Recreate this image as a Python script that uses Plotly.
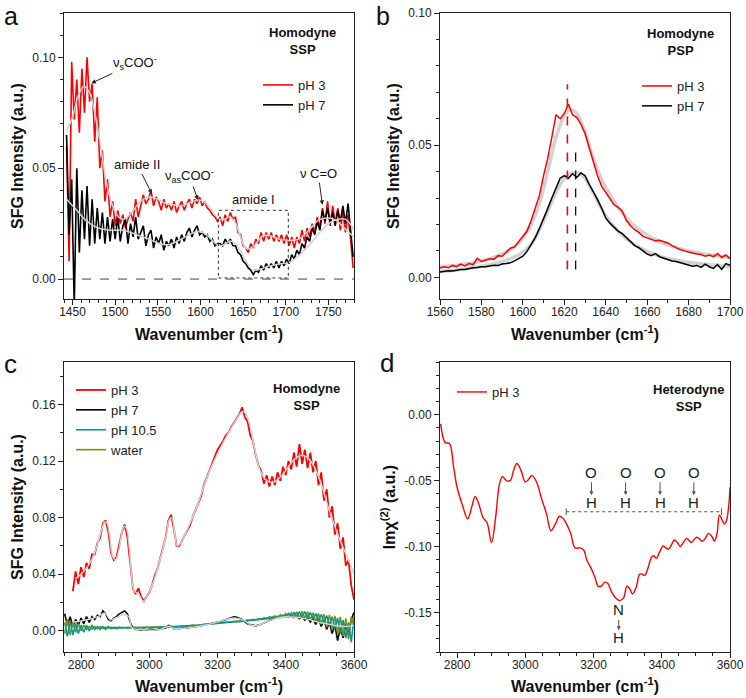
import plotly.graph_objects as go

# ---------------- Panel a : Homodyne SSP, 1440-1780 cm-1 ----------------
a_raw_x = list(range(1443, 1780, 3))
a_ph3_raw = [
    0.060, 0.008, 0.098, 0.072, 0.090, 0.066, 0.095, 0.075, 0.100, 0.080,
    0.088, 0.062, 0.082, 0.050, 0.058, 0.035, 0.045, 0.028, 0.035, 0.024,
    0.031, 0.025, 0.029, 0.023, 0.027, 0.030, 0.026, 0.036, 0.028, 0.033,
    0.038, 0.034, 0.036, 0.040, 0.033, 0.037, 0.035, 0.031, 0.036, 0.032,
    0.034, 0.031, 0.035, 0.030, 0.033, 0.035, 0.031, 0.034, 0.036, 0.032,
    0.036, 0.034, 0.037, 0.033, 0.035, 0.032, 0.031, 0.029, 0.028, 0.026,
    0.028, 0.024, 0.029, 0.026, 0.030, 0.027, 0.028, 0.021, 0.020, 0.015,
    0.014, 0.012, 0.016, 0.014, 0.018, 0.016, 0.021, 0.017, 0.021, 0.018,
    0.021, 0.017, 0.020, 0.017, 0.020, 0.016, 0.020, 0.015, 0.019, 0.014,
    0.019, 0.016, 0.022, 0.017, 0.023, 0.019, 0.025, 0.021, 0.028, 0.023,
    0.032, 0.025, 0.035, 0.024, 0.033, 0.025, 0.032, 0.022, 0.030, 0.021,
    0.029, 0.018, 0.005]
a_ph7_raw = [
    0.065, 0.020, 0.045, -0.012, 0.050, 0.012, 0.040, 0.018, 0.042, 0.015,
    0.036, 0.016, 0.032, 0.018, 0.030, 0.016, 0.028, 0.017, 0.027, 0.018,
    0.028, 0.017, 0.024, 0.027, 0.016, 0.025, 0.019, 0.028, 0.018, 0.021,
    0.024, 0.015, 0.020, 0.022, 0.014, 0.019, 0.016, 0.020, 0.013, 0.017,
    0.015, 0.018, 0.014, 0.019, 0.016, 0.020, 0.017, 0.021, 0.023, 0.019,
    0.022, 0.024, 0.020, 0.021, 0.019, 0.020, 0.017, 0.018, 0.015, 0.016,
    0.016, 0.015, 0.018, 0.016, 0.018, 0.015, 0.015, 0.012, 0.011, 0.008,
    0.007, 0.005, 0.004, 0.002, 0.004, 0.003, 0.006, 0.004, 0.007, 0.005,
    0.007, 0.005, 0.008, 0.005, 0.008, 0.006, 0.009, 0.007, 0.011, 0.009,
    0.013, 0.011, 0.016, 0.014, 0.019, 0.017, 0.023, 0.020, 0.026, 0.022,
    0.031, 0.026, 0.032, 0.025, 0.030, 0.024, 0.031, 0.026, 0.033, 0.025,
    0.034, 0.022, 0.010]
a_ph3_fit_x = [1443, 1450, 1456, 1463, 1470, 1476, 1483, 1490, 1497, 1504,
               1510, 1517, 1525, 1533, 1541, 1550, 1560, 1568, 1578, 1588,
               1599, 1607, 1615, 1622, 1628, 1634, 1640, 1646, 1653, 1660,
               1667, 1673, 1682, 1692, 1704, 1715, 1727, 1739, 1750, 1758,
               1766, 1774, 1780]
a_ph3_fit_y = [0.067, 0.073, 0.082, 0.087, 0.084, 0.075, 0.060, 0.043, 0.033, 0.028,
               0.027, 0.029, 0.033, 0.036, 0.037, 0.036, 0.034, 0.0335, 0.033, 0.0345,
               0.0357, 0.034, 0.030, 0.027, 0.027, 0.028, 0.026, 0.020, 0.014, 0.014,
               0.017, 0.0195, 0.0195, 0.018, 0.0175, 0.018, 0.022, 0.0267, 0.0275, 0.0267,
               0.024, 0.021, 0.019]
a_ph7_fit_x = [1443, 1455, 1467, 1480, 1495, 1510, 1525, 1540, 1552, 1563,
               1575, 1587, 1597, 1607, 1615, 1622, 1628, 1635, 1641, 1648,
               1655, 1662, 1670, 1680, 1692, 1704, 1715, 1727, 1739, 1750,
               1760, 1770, 1780]
a_ph7_fit_y = [0.036, 0.031, 0.026, 0.023, 0.022, 0.022, 0.020, 0.018, 0.016, 0.0155,
               0.0175, 0.020, 0.0215, 0.020, 0.017, 0.015, 0.0155, 0.0172, 0.016, 0.012,
               0.007, 0.004, 0.0045, 0.0058, 0.0068, 0.0075, 0.0105, 0.015, 0.0207, 0.025,
               0.0268, 0.027, 0.022]
a_amide1_box = [1621, 1703, 0.0005, 0.031]   # x0, x1, y0, y1

# ---------------- Panel b : Homodyne PSP, 1560-1700 cm-1 ----------------
b_raw_x = list(range(1560, 1701, 2))
b_ph3_raw = [
    0.0035, 0.0040, 0.0036, 0.0045, 0.0040, 0.0050, 0.0043, 0.0052, 0.0048, 0.0072,
    0.0060, 0.0065, 0.0070, 0.0068, 0.0082, 0.0080, 0.0095, 0.0110, 0.0115, 0.0135,
    0.0155, 0.0175, 0.0215, 0.0265, 0.0310, 0.0385, 0.0450, 0.0530, 0.0615, 0.0600,
    0.0620, 0.0655, 0.0615, 0.0605, 0.0580, 0.0545, 0.0490, 0.0430, 0.0385, 0.0345,
    0.0320, 0.0295, 0.0275, 0.0265, 0.0250, 0.0215, 0.0195, 0.0180, 0.0170, 0.0155,
    0.0150, 0.0145, 0.0138, 0.0140, 0.0135, 0.0130, 0.0120, 0.0112, 0.0105, 0.0100,
    0.0095, 0.0092, 0.0088, 0.0086, 0.0080, 0.0084, 0.0078, 0.0090, 0.0075, 0.0085,
    0.0070]
b_ph7_raw = [
    0.0020, 0.0022, 0.0025, 0.0024, 0.0028, 0.0030, 0.0030, 0.0034, 0.0036, 0.0037,
    0.0040, 0.0040, 0.0044, 0.0046, 0.0045, 0.0050, 0.0052, 0.0055, 0.0062, 0.0070,
    0.0080, 0.0098, 0.0125, 0.0150, 0.0185, 0.0220, 0.0260, 0.0300, 0.0340, 0.0375,
    0.0385, 0.0375, 0.0392, 0.0378, 0.0395, 0.0385, 0.0352, 0.0325, 0.0295, 0.0262,
    0.0225, 0.0205, 0.0190, 0.0175, 0.0165, 0.0150, 0.0132, 0.0120, 0.0112, 0.0100,
    0.0088, 0.0082, 0.0090, 0.0078, 0.0072, 0.0068, 0.0062, 0.0060, 0.0055, 0.0052,
    0.0048, 0.0042, 0.0045, 0.0038, 0.0050, 0.0040, 0.0034, 0.0048, 0.0030, 0.0052,
    0.0045]
b_ph3_fit_x = [1560, 1570, 1580, 1590, 1598, 1604, 1608, 1612, 1616, 1620, 1623,
               1626, 1630, 1634, 1638, 1643, 1650, 1658, 1666, 1675, 1685, 1700]
b_ph3_fit_y = [0.004, 0.0048, 0.0062, 0.0088, 0.013, 0.020, 0.028, 0.040, 0.053, 0.061, 0.0635,
               0.062, 0.055, 0.045, 0.037, 0.030, 0.0225, 0.017, 0.0135, 0.011, 0.0092, 0.0075]
b_ph7_fit_x = [1560, 1570, 1580, 1590, 1598, 1604, 1608, 1612, 1616, 1620, 1624,
               1627, 1630, 1634, 1638, 1643, 1650, 1658, 1666, 1675, 1685, 1700]
b_ph7_fit_y = [0.0022, 0.003, 0.0042, 0.006, 0.0085, 0.0125, 0.018, 0.025, 0.032, 0.0375, 0.0395,
               0.0395, 0.0375, 0.032, 0.026, 0.020, 0.0145, 0.0105, 0.008, 0.0063, 0.0052, 0.004]
b_peak_ph3 = [1621.5, 0.003, 0.073]   # position, line bottom, line top
b_peak_ph7 = [1625.5, 0.003, 0.0505]

# ---------------- Panel c : Homodyne SSP, 2750-3600 cm-1 ----------------
c_red_x = list(range(2776, 3601, 8))
c_ph3_raw = [
    0.028, 0.042, 0.033, 0.045, 0.038, 0.048, 0.044, 0.054, 0.054, 0.062,
    0.066, 0.076, 0.078, 0.070, 0.055, 0.050, 0.052, 0.060, 0.070, 0.075,
    0.066, 0.048, 0.030, 0.026, 0.030, 0.024, 0.021, 0.024, 0.027, 0.032,
    0.039, 0.044, 0.051, 0.058, 0.066, 0.078, 0.082, 0.072, 0.060, 0.060,
    0.064, 0.068, 0.071, 0.075, 0.081, 0.086, 0.090, 0.095, 0.103, 0.108,
    0.114, 0.119, 0.124, 0.128, 0.131, 0.134, 0.138, 0.140, 0.144, 0.147,
    0.150, 0.153, 0.158, 0.151, 0.148, 0.138, 0.134, 0.124, 0.117, 0.113,
    0.104, 0.110, 0.102, 0.109, 0.103, 0.112, 0.106, 0.116, 0.110, 0.120,
    0.114, 0.126, 0.116, 0.132, 0.118, 0.128, 0.115, 0.126, 0.112, 0.120,
    0.103, 0.112, 0.092, 0.100, 0.080, 0.088, 0.068, 0.076, 0.058, 0.066,
    0.046, 0.050, 0.032, 0.022]
c_ph3_fit_x = [2784, 2800, 2818, 2835, 2850, 2862, 2869, 2876, 2884, 2892,
               2901, 2910, 2918, 2925, 2932, 2940, 2948, 2956, 2968, 2982,
               2995, 3010, 3025, 3040, 3050, 3058, 3066, 3074, 3082, 3092,
               3110, 3140, 3170, 3200, 3237, 3260, 3272, 3282, 3295, 3310,
               3325, 3345, 3364, 3393, 3422, 3447, 3471, 3500, 3530, 3559,
               3588, 3600]
c_ph3_fit_y = [0.037, 0.040, 0.045, 0.052, 0.063, 0.073, 0.077, 0.076, 0.067, 0.053,
               0.050, 0.056, 0.067, 0.0735, 0.073, 0.062, 0.040, 0.028, 0.026, 0.021,
               0.025, 0.033, 0.045, 0.058, 0.068, 0.078, 0.080, 0.070, 0.060, 0.062,
               0.071, 0.088, 0.109, 0.125, 0.142, 0.151, 0.155, 0.154, 0.145, 0.127,
               0.113, 0.106, 0.105, 0.111, 0.1205, 0.124, 0.1205, 0.1064, 0.083, 0.064,
               0.0477, 0.0406]
c_low_x = list(range(2752, 3601, 8))
c_ph7_raw = [
    0.012, 0.004, 0.010, 0.003, 0.008, 0.004, 0.009, 0.005, 0.010, 0.006,
    0.010, 0.008, 0.011, 0.010, 0.014, 0.012, 0.008, 0.007, 0.009, 0.010,
    0.012, 0.013, 0.014, 0.012, 0.006, 0.002, 0.001, 0.001, 0.0005, 0.001,
    0.0005, 0.0008, 0.001, 0.0006, 0.001, 0.0012, 0.0015, 0.002, 0.0038, 0.003,
    0.0015, 0.0018, 0.0015, 0.002, 0.0018, 0.0022, 0.0025, 0.0028, 0.003, 0.0033,
    0.0036, 0.004, 0.0042, 0.0046, 0.005, 0.0055, 0.006, 0.0066, 0.0072, 0.0078,
    0.0088, 0.0092, 0.0098, 0.0095, 0.0088, 0.0080, 0.0065, 0.005, 0.0042, 0.0036,
    0.0035, 0.004, 0.0048, 0.0056, 0.0064, 0.0072, 0.0082, 0.0088, 0.0092, 0.0098,
    0.0100, 0.0104, 0.0098, 0.0105, 0.0093, 0.0102, 0.0085, 0.0098, 0.0075, 0.0092,
    0.0062, 0.0088, 0.0045, 0.0082, 0.003, 0.0075, 0.001, 0.006, -0.002, 0.004,
    -0.007, 0.002, -0.005, 0.005, -0.003, 0.008, 0.013]
c_ph7_fit_x = [2776, 2820, 2850, 2869, 2886, 2901, 2925, 2940, 2950, 2980,
               3030, 3057, 3072, 3110, 3170, 3228, 3250, 3276, 3296, 3315,
               3345, 3393, 3432, 3471, 3500, 3540, 3580, 3600]
c_ph7_fit_y = [0.006, 0.008, 0.010, 0.0125, 0.0078, 0.009, 0.0115, 0.010, 0.002, 0.0008,
               0.0008, 0.0032, 0.0016, 0.002, 0.0042, 0.0082, 0.009, 0.0075, 0.0042, 0.0036,
               0.0066, 0.0098, 0.0095, 0.0078, 0.0058, 0.004, 0.003, 0.004]
c_ph105_raw = [
    0.006, -0.004, 0.007, -0.003, 0.005, -0.002, 0.004, -0.001, 0.004, 0.000,
    0.004, 0.001, 0.003, 0.001, 0.003, 0.001, 0.003, 0.0015, 0.0025, 0.0015,
    0.0025, 0.0018, 0.0025, 0.0018, 0.0024, 0.002, 0.0025, 0.0018, 0.0024, 0.002,
    0.0026, 0.002, 0.0026, 0.0022, 0.0027, 0.0023, 0.0028, 0.0024, 0.003, 0.0026,
    0.003, 0.0028, 0.0032, 0.003, 0.0035, 0.0033, 0.0037, 0.0036, 0.004, 0.0039,
    0.0043, 0.0042, 0.0046, 0.0046, 0.005, 0.0049, 0.0054, 0.0053, 0.0058, 0.0057,
    0.0062, 0.006, 0.0066, 0.0063, 0.0068, 0.0066, 0.0072, 0.007, 0.0076, 0.0074,
    0.008, 0.0077, 0.0086, 0.008, 0.0092, 0.0085, 0.0098, 0.009, 0.0104, 0.0094,
    0.0112, 0.0098, 0.0122, 0.0102, 0.0128, 0.0104, 0.0132, 0.0100, 0.0135, 0.0095,
    0.0128, 0.0085, 0.0122, 0.0072, 0.0115, 0.0055, 0.0108, 0.0035, 0.0100, 0.0015,
    0.0090, -0.002, 0.0075, -0.005, 0.006, -0.008, 0.010]
c_water_raw = [
    -0.002, 0.008, -0.003, 0.006, -0.001, 0.005, 0.000, 0.004, 0.001, 0.003,
    0.0012, 0.003, 0.0015, 0.0028, 0.0016, 0.0026, 0.0018, 0.0025, 0.0018, 0.0024,
    0.002, 0.0024, 0.002, 0.0024, 0.0021, 0.0025, 0.0021, 0.0025, 0.0022, 0.0026,
    0.0022, 0.0027, 0.0023, 0.0028, 0.0024, 0.0029, 0.0025, 0.003, 0.0026, 0.0031,
    0.0028, 0.0032, 0.003, 0.0035, 0.0032, 0.0037, 0.0035, 0.004, 0.0038, 0.0043,
    0.0041, 0.0046, 0.0045, 0.005, 0.0048, 0.0054, 0.0052, 0.0058, 0.0056, 0.0062,
    0.0059, 0.0065, 0.0062, 0.0069, 0.0065, 0.0073, 0.0069, 0.0077, 0.0073, 0.0081,
    0.0076, 0.0086, 0.0079, 0.0092, 0.0083, 0.0099, 0.0088, 0.0106, 0.0092, 0.0114,
    0.0096, 0.0122, 0.0098, 0.0128, 0.0097, 0.0134, 0.0094, 0.0138, 0.0088, 0.0134,
    0.0078, 0.0128, 0.0065, 0.0122, 0.0048, 0.0118, 0.0025, 0.0112, 0.0005, 0.0106,
    -0.002, 0.0098, -0.004, 0.0088, -0.006, 0.0100, 0.004]

# ---------------- Panel d : Heterodyne SSP, Im chi(2) ----------------
d_x = [2752, 2765, 2778, 2790, 2800, 2815, 2831, 2843, 2853, 2864,
       2876, 2888, 2901, 2913, 2924, 2933, 2945, 2956, 2966, 2975,
       2987, 3000, 3010, 3019, 3033, 3048, 3062, 3075, 3088, 3100,
       3112, 3121, 3133, 3146, 3162, 3172, 3180, 3194, 3205, 3213,
       3223, 3233, 3242, 3252, 3265, 3277, 3288, 3298, 3306, 3314,
       3325, 3335, 3343, 3350, 3360, 3370, 3377, 3384, 3394, 3404,
       3412, 3420, 3428, 3437, 3446, 3454, 3463, 3472, 3479, 3486,
       3494, 3501, 3510, 3518, 3527, 3537, 3546, 3554, 3562, 3569,
       3577, 3584, 3590, 3596, 3600]
d_ph3 = [-0.007, -0.021, -0.022, -0.040, -0.055, -0.068, -0.079, -0.070, -0.062, -0.068,
         -0.078, -0.082, -0.097, -0.078, -0.053, -0.047, -0.050, -0.050, -0.042, -0.037,
         -0.042, -0.051, -0.049, -0.046, -0.051, -0.064, -0.075, -0.088, -0.083, -0.077,
         -0.079, -0.083, -0.090, -0.101, -0.101, -0.103, -0.110, -0.117, -0.124, -0.130,
         -0.130, -0.127, -0.128, -0.134, -0.139, -0.141, -0.139, -0.130, -0.132, -0.136,
         -0.131, -0.121, -0.121, -0.122, -0.116, -0.108, -0.107, -0.109, -0.104, -0.0995,
         -0.101, -0.102, -0.099, -0.095, -0.097, -0.100, -0.097, -0.094, -0.095, -0.097,
         -0.095, -0.093, -0.094, -0.096, -0.094, -0.090, -0.092, -0.096, -0.090, -0.076,
         -0.080, -0.083, -0.080, -0.070, -0.055]
d_oh_x = [3194, 3294, 3395, 3494]
d_oh_levels = [-0.0437, -0.0665]          # O label, H label
d_oh_range = [3120, 3575, -0.0736]        # dashed bracket x0, x1, y
d_nh = [3274, -0.148, -0.169]             # x, N label, H label
d_yticks = [-0.15, -0.10, -0.05, 0.00]
d_yticktext = ["-0.15", "-0.10", "-0.05", "0.00"]

RED = "#ff0000"
BLACK = "#000000"
TEAL = "#009a9a"
OLIVE = "#8c8c00"
FIT = "#d2d2d2"
FONT = "Liberation Sans, Arial, sans-serif"

fig = go.Figure()


def line(x, y, color, width, xa, ya, name=None, legend=None, shape="linear", rank=None):
    kw = dict(x=x, y=y, mode="lines", xaxis=xa, yaxis=ya, hoverinfo="skip",
              line=dict(color=color, width=width, shape=shape),
              showlegend=name is not None)
    if name is not None:
        kw["name"] = name
        kw["legend"] = legend
    if rank is not None:
        kw["legendrank"] = rank
    fig.add_trace(go.Scatter(**kw))


# panel a
line(a_raw_x, a_ph3_raw, RED, 1.6, "x", "y", "pH 3", "legend")
line(a_raw_x, a_ph7_raw, BLACK, 1.6, "x", "y", "pH 7", "legend")
line(a_ph3_fit_x, a_ph3_fit_y, FIT, 1.5, "x", "y", shape="spline")
line(a_ph7_fit_x, a_ph7_fit_y, FIT, 1.5, "x", "y", shape="spline")

# panel b
line(b_ph3_fit_x, b_ph3_fit_y, FIT, 3.5, "x2", "y2", shape="spline")
line(b_ph7_fit_x, b_ph7_fit_y, FIT, 3.5, "x2", "y2", shape="spline")
line(b_raw_x, b_ph3_raw, RED, 1.5, "x2", "y2", "pH 3", "legend2")
line(b_raw_x, b_ph7_raw, BLACK, 1.5, "x2", "y2", "pH 7", "legend2")

# panel c
line(c_red_x, c_ph3_raw, RED, 1.8, "x3", "y3", "pH 3", "legend3", rank=1)
line(c_low_x, c_ph7_raw, BLACK, 1.6, "x3", "y3", "pH 7", "legend3", rank=2)
line(c_low_x, c_water_raw, OLIVE, 1.6, "x3", "y3", "water", "legend3", rank=4)
line(c_low_x, c_ph105_raw, TEAL, 1.6, "x3", "y3", "pH 10.5", "legend3", rank=3)
line(c_ph3_fit_x, c_ph3_fit_y, FIT, 1.5, "x3", "y3", shape="spline")
line(c_ph7_fit_x, c_ph7_fit_y, FIT, 1.5, "x3", "y3", shape="spline")

# panel d
line(d_x, d_ph3, RED, 1.4, "x4", "y4", "pH 3", "legend4", shape="spline")


def axis(domain, rng, dtick, tick0, minor, title, anchor, standoff=8, **extra):
    d = dict(domain=domain, range=rng, dtick=dtick, tick0=tick0, anchor=anchor,
             ticks="outside", ticklen=5, tickwidth=1, tickcolor="#222",
             minor=dict(dtick=minor, tick0=tick0, ticks="outside", ticklen=3,
                        tickwidth=1, tickcolor="#222", showgrid=False),
             showline=True, linecolor="#222", linewidth=1, mirror=True,
             showgrid=False, zeroline=False, automargin=False,
             tickfont=dict(size=12, color="#222", family=FONT),
             title=dict(text=title, font=dict(size=16, color="#111", family=FONT),
                        standoff=standoff))
    d.update(extra)
    return d


XT = "<b>Wavenumber (cm<sup>-1</sup>)</b>"
YT = "<b>SFG Intensity (a.u.)</b>"
W, H = 746, 698
xa_dom = [64 / W, 354 / W]
xb_dom = [440 / W, 730 / W]
ytop_dom = [1 - 299 / H, 1 - 13 / H]
ybot_dom = [1 - 652 / H, 1 - 362 / H]

XS = dict(ticklabelstandoff=-3)
YS = dict(tickformat=".2f")

fig.update_layout(
    width=W, height=H, margin=dict(l=0, r=0, t=0, b=0),
    template="none", paper_bgcolor="white", plot_bgcolor="white",
    font=dict(family=FONT, color="#222"),
    xaxis=axis(xa_dom, [1440, 1780], 50, 1450, 10, XT, "y", standoff=10, **XS),
    yaxis=axis(ytop_dom, [-0.009, 0.12], 0.05, 0, 0.01, YT, "x", standoff=4, **YS),
    xaxis2=axis(xb_dom, [1560, 1700], 20, 1560, 10, XT, "y2", standoff=10, **XS),
    yaxis2=axis(ytop_dom, [-0.0082, 0.1], 0.05, 0, 0.01, YT, "x2", standoff=4, **YS),
    xaxis3=axis(xa_dom, [2750, 3600], 200, 2800, 50, XT, "y3", standoff=9, **XS),
    yaxis3=axis(ybot_dom, [-0.015, 0.19], 0.04, 0, 0.02, YT, "x3", standoff=4, **YS),
    xaxis4=axis(xb_dom, [2750, 3600], 200, 2800, 50, XT, "y4", standoff=9, **XS),
    yaxis4=axis(ybot_dom, [-0.18, 0.04], 0.05, 0, 0.01,
                "<b>Im\u03c7<sup>(2)</sup> (a.u.)</b>", "x4", standoff=4,
                tickmode="array", tickvals=d_yticks, ticktext=d_yticktext),
)

leg = dict(xanchor="left", yanchor="top", bgcolor="rgba(0,0,0,0)",
           font=dict(size=13, color="#222", family=FONT), itemwidth=30,
           tracegroupgap=0)
fig.update_layout(
    legend=dict(leg, x=258 / W, y=1 - 70 / H),
    legend2=dict(leg, x=637 / W, y=1 - 71 / H),
    legend3=dict(leg, x=71 / W, y=1 - 375 / H),
    legend4=dict(leg, x=452 / W, y=1 - 377 / H),
)

shapes = []
# panel a: zero line and amide I box
shapes.append(dict(type="line", xref="x domain", yref="y", x0=0, x1=1, y0=0, y1=0,
                   line=dict(color="#444", width=1, dash="dash")))
shapes.append(dict(type="rect", xref="x", yref="y",
                   x0=a_amide1_box[0], x1=a_amide1_box[1],
                   y0=a_amide1_box[2], y1=a_amide1_box[3],
                   line=dict(color="#333", width=1, dash="dot")))
# panel b peak markers
shapes.append(dict(type="line", xref="x2", yref="y2", x0=b_peak_ph3[0], x1=b_peak_ph3[0],
                   y0=b_peak_ph3[1], y1=b_peak_ph3[2], line=dict(color=RED, width=1.6, dash="dash")))
shapes.append(dict(type="line", xref="x2", yref="y2", x0=b_peak_ph7[0], x1=b_peak_ph7[0],
                   y0=b_peak_ph7[1], y1=b_peak_ph7[2], line=dict(color=BLACK, width=1.2, dash="dash")))
# panel d bracket
shapes.append(dict(type="line", xref="x4", yref="y4", x0=d_oh_range[0], x1=d_oh_range[1],
                   y0=d_oh_range[2], y1=d_oh_range[2], line=dict(color="#555", width=1, dash="dot")))
for xe in d_oh_range[:2]:
    shapes.append(dict(type="line", xref="x4", yref="y4", x0=xe, x1=xe,
                       y0=d_oh_range[2] - 0.0025, y1=d_oh_range[2] + 0.0025,
                       line=dict(color="#555", width=1)))
fig.update_layout(shapes=shapes)

ann = []


def text(x, y, t, xref, yref, size=13, bold=False, xanchor="center", color="#111",
         yanchor="middle"):
    ann.append(dict(x=x, y=y, xref=xref, yref=yref, text=f"<b>{t}</b>" if bold else t,
                    showarrow=False, xanchor=xanchor, yanchor=yanchor,
                    font=dict(size=size, color=color, family=FONT)))


def arrow(x, y, ax, ay, xref, yref, t, size=13, color="#222", tcolor="#111", head=0.9):
    ann.append(dict(x=x, y=y, ax=ax, ay=ay, xref=xref, yref=yref, axref=xref, ayref=yref,
                    text=t, showarrow=True, arrowhead=2, arrowsize=head, arrowwidth=1,
                    arrowcolor=color, font=dict(size=size, color=tcolor, family=FONT)))


# panel letters
text(11 / W, 1.0, "a", "paper", "paper", size=25, yanchor="top")
text(383 / W, 1.0, "b", "paper", "paper", size=25, yanchor="top")
text(10 / W, 1 - 364 / H, "c", "paper", "paper", size=26)
text(387 / W, 1 - 363 / H, "d", "paper", "paper", size=26)

# panel a labels
text(1720, 0.1075, "Homodyne<br>SSP", "x", "y", bold=True)
arrow(1472, 0.0883, 1523, 0.0975, "x", "y", "\u03bd<sub>s</sub>COO<sup>-</sup>")
arrow(1543, 0.0385, 1526, 0.0515, "x", "y", "amide II")
arrow(1597, 0.0357, 1587, 0.0465, "x", "y", "\u03bd<sub>as</sub>COO<sup>-</sup>")
text(1662, 0.0358, "amide I", "x", "y")
arrow(1743, 0.0335, 1738, 0.0475, "x", "y", "\u03bd C=O")

# panel b labels
text(1676, 0.089, "Homodyne<br>PSP", "x2", "y2", bold=True)

# panel c labels
text(3460, 0.165, "Homodyne<br>SSP", "x3", "y3", bold=True)

# panel d labels
text(3479, 0.0125, "Heterodyne<br>SSP", "x4", "y4", bold=True)
for xo in d_oh_x:
    arrow(xo, d_oh_levels[1] + 0.0055, xo, d_oh_levels[0], "x4", "y4", "O",
          size=15, color="#555", tcolor="#222", head=0.8)
    text(xo, d_oh_levels[1], "H", "x4", "y4", size=15, color="#222")
arrow(d_nh[0], d_nh[2] + 0.0055, d_nh[0], d_nh[1], "x4", "y4", "N",
      size=15, color="#555", tcolor="#222", head=0.8)
text(d_nh[0], d_nh[2], "H", "x4", "y4", size=15, color="#222")

fig.update_layout(annotations=ann)
fig.write_html("out.html", config={"displayModeBar": False},
               post_script="document.body.style.margin='0px';")
